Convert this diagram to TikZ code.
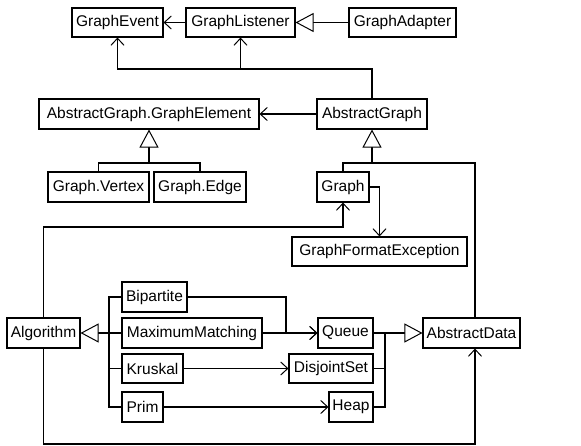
\documentclass[tikz,border=0pt]{standalone}
\usepackage{fontspec}
\setmainfont{Liberation Sans}
\usetikzlibrary{arrows.meta}
\tikzset{
  box/.style={draw, line width=1.1pt, inner sep=0pt, font=\fontsize{15.5}{16}\selectfont},
  conn/.style={line width=1.1pt},
  oa/.style={conn, -{Straight Barb[length=7pt,width=13pt,line width=1pt]}},
  tri/.style={conn, -{Triangle[open,length=18pt,width=19pt,fill=white,line width=1pt]}}
}
\newcommand\mybox[6]{\node[box,minimum width={#4pt-#2pt},minimum height={#5pt-#3pt}] (#1) at ({(#2+#4)/2},{(#3+#5)/2}) {#6};}
\begin{document}
\begin{tikzpicture}[x=1pt,y=-1pt]
\useasboundingbox (0,0) rectangle (581,446);
\mybox{ge}{72}{8}{163}{37}{GraphEvent}
\mybox{gl}{186}{8}{295}{37}{GraphListener}
\mybox{ga}{349}{8}{456}{37}{GraphAdapter}
\mybox{gel}{39}{99}{259}{129}{AbstractGraph.GraphElement}
\mybox{ag}{317}{99}{427}{129}{AbstractGraph}
\mybox{gv}{48}{172}{149}{202}{Graph.Vertex}
\mybox{gedge}{154}{172}{246}{202}{Graph.Edge}
\mybox{graph}{317}{172}{369}{202}{Graph}
\mybox{gfe}{292}{237}{467}{266}{GraphFormatException}
\mybox{bip}{122}{282}{187}{312}{Bipartite}
\mybox{mm}{122}{318}{262}{348}{MaximumMatching}
\mybox{kr}{122}{354}{183}{383}{Kruskal}
\mybox{prim}{122}{392}{163}{422}{Prim}
\mybox{alg}{7}{318}{80}{348}{Algorithm}
\mybox{queue}{318}{318}{373}{348}{Queue}
\mybox{ds}{289}{354}{373}{383}{DisjointSet}
\mybox{heap}{329}{392}{373}{422}{Heap}
\mybox{ad}{423}{318}{520}{348}{AbstractData}

\coordinate (b1) at (0,69);
\coordinate (b2) at (0,163);
\coordinate (b3) at (0,227);
\coordinate (c2) at (475,163);
\coordinate (c4) at (475,444);
\coordinate (s1) at (109,0);
\coordinate (s2) at (286,0);
\coordinate (s3) at (385,0);

\draw[oa] (gl.west) -- (ge.east);
\draw[tri] (ga.west) -- (gl.east);
\draw[oa] (ag.north) |- (ge.south |- b1) -- (ge.south);
\draw[oa] (gl.south |- b1) -- (gl.south);
\draw[oa] (ag.west) -- (gel.east);
\draw[conn] (gv.north) |- (gedge.north |- b2) -- (gedge.north);
\draw[tri] (gel.south |- b2) -- (gel.south);
\draw[conn] (graph.north) |- (c2) -- (ad.north -| c2);
\draw[tri] (ag.south |- b2) -- (ag.south);
\draw[oa] (graph.east) -| (gfe.north);
\draw[oa] (alg.north) |- (graph.south |- b3) -- (graph.south);
\draw[oa] (alg.south) |- (c4) -- (ad.south -| c4);

\draw[conn] (bip.west) -| (prim.west -| s1) -- (prim.west);
\draw[conn] (mm.west) -- (mm.west -| s1);
\draw[conn] (kr.west) -- (kr.west -| s1);
\draw[tri] (mm.west -| s1) -- (alg.east);

\draw[oa] (bip.east) -| (queue.west -| s2) -- (queue.west);
\draw[oa] (mm.east) -- (queue.west);
\draw[oa] (kr.east) -- (ds.west);
\draw[oa] (prim.east) -- (heap.west);

\draw[conn] (queue.east -| s3) |- (heap.east);
\draw[conn] (ds.east) -- (ds.east -| s3);
\draw[tri] (queue.east) -- (ad.west);
\end{tikzpicture}
\end{document}
